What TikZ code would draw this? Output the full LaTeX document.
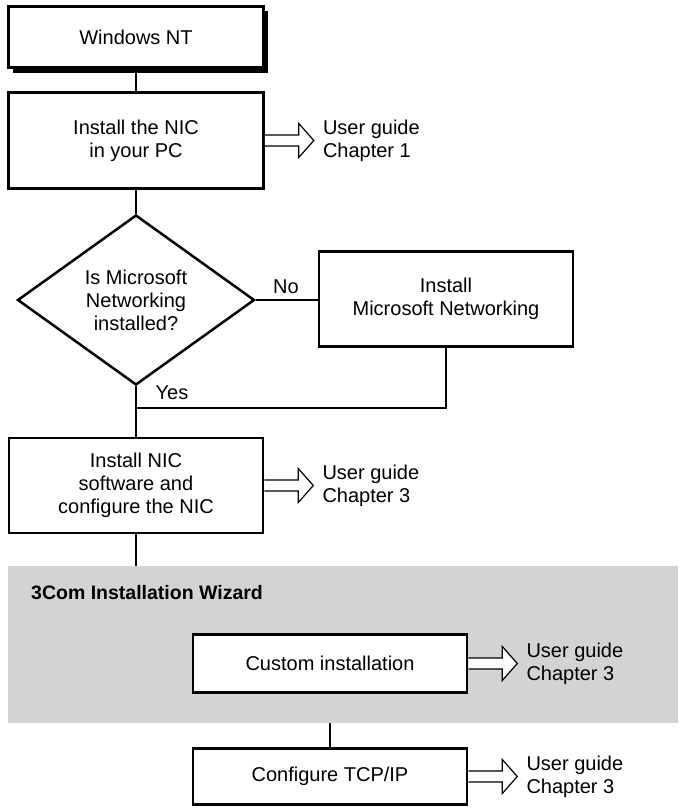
\documentclass[tikz,border=0pt]{standalone}
\usepackage{fontspec}
\setmainfont{Liberation Sans}
\usetikzlibrary{shapes.geometric,shadows,calc}
\definecolor{wizgray}{RGB}{211,211,211}
\newcommand{\refarrow}[3]{%
  \draw[harrow] ($(#1.east)+(0,-5.5)$) -- ++(34,0) -- ++(0,-11.5) -- ++(15,17) -- ++(-15,17) -- ++(0,-11.5) -- ++(-34,0);
  \node[reftext] (#2) at ($(#1.east)+(58,0)$) {User guide\\#3};
}
\begin{document}
\begin{tikzpicture}[x=1pt,y=-1pt,
  font=\fontsize{20}{23}\selectfont,
  box/.style={draw, line width=2.6pt, fill=white, align=center, inner sep=0pt},
  conn/.style={line width=1.3pt},
  harrow/.style={draw, line width=1.2pt, fill=white, line join=miter},
  reftext/.style={anchor=west, align=left, inner sep=0pt},
  lbl/.style={inner sep=0pt}
]
\useasboundingbox (0,0) rectangle (678,808);

% grey wizard region
\node[fill=wizgray, inner sep=0pt, minimum width=670pt, minimum height=157pt] (wiz) at (343,644.5) {};
\node[anchor=west, inner sep=0pt, font=\fontsize{19.5}{22}\selectfont\bfseries] (wizlabel) at (31,593) {3Com Installation Wizard};

% nodes
\node[box, minimum width=255pt, minimum height=61pt,
      drop shadow={shadow xshift=4.5pt, shadow yshift=-5pt, opacity=1, fill=black}] (nt) at (136,37) {Windows NT};
\node[box, minimum width=255pt, minimum height=96pt] (nic) at (136,140.5) {Install the NIC\\in your PC};
\node[draw, diamond, line width=2.5pt, fill=white, align=center, inner sep=0pt, aspect=1.4,
      minimum width=237pt, minimum height=170pt] (dia) at (136,300) {Is Microsoft\\Networking\\installed?};
\node[box, minimum width=254pt, minimum height=95pt] (msn) at (446,299) {Install\\Microsoft Networking};
\node[box, minimum width=254pt, minimum height=95pt] (sw) at (136,485.5) {Install NIC\\software and\\configure the NIC};
\node[box, minimum width=274pt, minimum height=58pt] (custom) at (330,663.5) {Custom installation};
\node[box, minimum width=274pt, minimum height=56pt] (tcp) at (330,776.5) {Configure TCP/IP};

% connectors
\coordinate (yesj) at (136,408);
\draw[conn] (nt.south) -- (nic.north);
\draw[conn] (nic.south) -- (dia.north);
\draw[conn] (dia.east) -- (dia.east -| msn.west);
\draw[conn] (dia.south) -- (sw.north);
\draw[conn] (msn.south) |- (yesj);
\draw[conn] (sw.south) -- (sw.south |- wiz.north);
\draw[conn] (tcp.north |- wiz.south) -- (tcp.north);

\node[lbl] (no) at (286,287) {No};
\node[lbl] (yes) at (172,393) {Yes};

% reference arrows
\refarrow{nic}{ref1}{Chapter 1}
\refarrow{sw}{ref2}{Chapter 3}
\refarrow{custom}{ref3}{Chapter 3}
\refarrow{tcp}{ref4}{Chapter 3}
\end{tikzpicture}
\end{document}
